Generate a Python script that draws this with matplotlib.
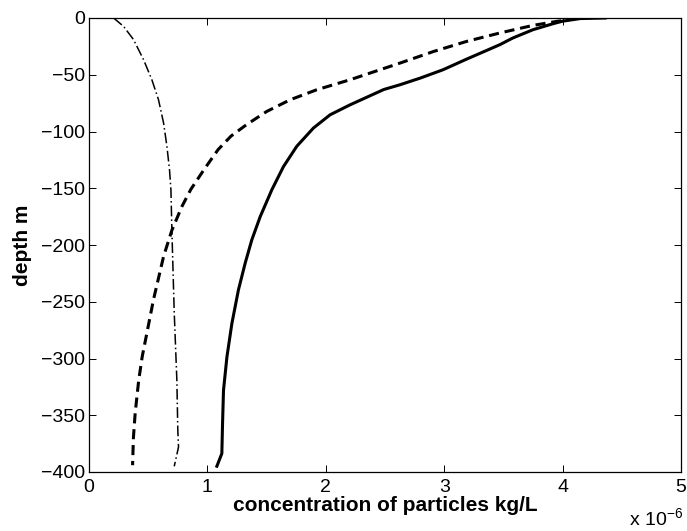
import matplotlib
matplotlib.use('Agg')
import matplotlib.pyplot as plt

plt.rcParams['font.family'] = ['Liberation Sans', 'DejaVu Sans']
plt.rcParams['mathtext.fontset'] = 'custom'
plt.rcParams['mathtext.rm'] = 'Liberation Sans'

# concentration in units of 1e-6 kg/L, depth in m
solid_x = [4.36, 4.15, 4.0, 3.92, 3.75, 3.58, 3.47, 3.358, 3.19, 2.99, 2.796, 2.627,
           2.49, 2.205, 2.036, 1.895, 1.755, 1.642, 1.544, 1.446, 1.375, 1.319,
           1.262, 1.207, 1.165, 1.136, 1.128, 1.122, 1.08]
solid_y = [0, -0.5, -2.8, -5, -10.3, -17.6, -23.5, -28.6, -36.2, -45.6, -53, -58.8,
           -63, -76.5, -85.3, -97, -113, -131, -151.4, -175, -195.5, -216,
           -239.6, -269, -298.5, -328, -357, -383.7, -394.9]

dashed_x = [4.12, 4.09, 3.95, 3.75, 3.47, 3.19, 2.91, 2.627, 2.205, 1.924, 1.70,
            1.50, 1.33, 1.20, 1.09, 0.975, 0.86, 0.785, 0.70, 0.63, 0.545, 0.45,
            0.42, 0.39, 0.375, 0.368]
dashed_y = [0, -0.9, -3, -6.5, -13.2, -20.6, -29.5, -39.7, -54.4, -63.2, -72,
            -82.4, -94, -104, -116, -133, -151, -166, -187, -210, -248, -298,
            -319, -348, -370, -394]

dashdot_x = [0.208, 0.292, 0.376, 0.461, 0.531, 0.587, 0.63, 0.658, 0.68, 0.692,
             0.70, 0.72, 0.742, 0.75, 0.756, 0.72]
dashdot_y = [0, -7.4, -19, -36.8, -54.4, -72, -92.6, -113, -133.8, -151.4,
             -187, -260, -319, -363, -378, -395]

xticks = [0, 1, 2, 3, 4, 5]
yticks = [0, -50, -100, -150, -200, -250, -300, -350, -400]

fig = plt.figure(figsize=(6.87, 5.31), dpi=100)
ax = fig.add_axes([89/687, 1-472/531, (681-89)/687, (472-18)/531])

ax.plot(solid_x, solid_y, 'k-', lw=2.2)
ax.plot(dashed_x, dashed_y, 'k', ls=(0, (3.3, 1.9)), lw=2.2)
ax.plot(dashdot_x, dashdot_y, 'k', ls=(0, (7, 2, 1, 2)), lw=1.1)

ax.set_xlim(0, 5)
ax.set_ylim(-400, 0)
ax.set_xticks(xticks)
ax.set_yticks(yticks)
ax.set_yticklabels([str(t).replace('-', '\u2212') for t in yticks])
ax.tick_params(direction='in', top=True, right=True, labelsize=14, length=5, width=0.7)
ax.tick_params(axis='x', pad=5)
ax.tick_params(axis='y', pad=3)
for s in ax.spines.values():
    s.set_linewidth(0.9)

ax.set_xlabel('concentration of particles kg/L', fontsize=15, fontweight='bold', labelpad=0)
ax.set_ylabel('depth m', fontsize=15, fontweight='bold', labelpad=6)
fig.text(683/687, 1-526/531, 'x 10$^{\u22126}$', fontsize=14, ha='right', va='baseline')

fig.savefig('out.png', dpi=100)
